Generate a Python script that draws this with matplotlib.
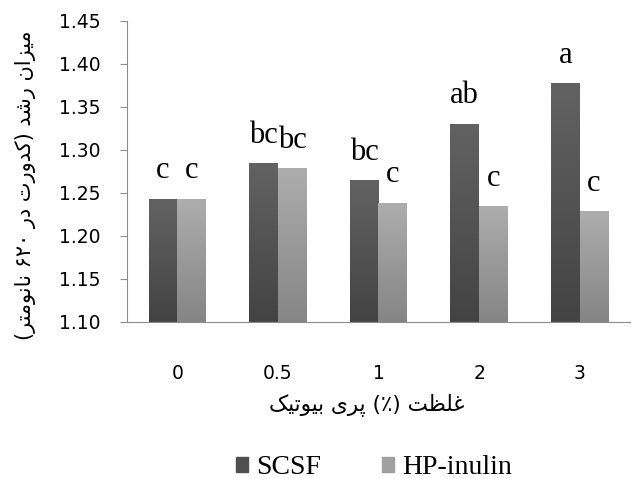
import re
import numpy as np
import matplotlib
matplotlib.use('Agg')
import matplotlib.pyplot as plt
from matplotlib.colors import LinearSegmentedColormap

# data
categories = ['0', '0.5', '1', '2', '3']
scsf = [1.243, 1.284, 1.264, 1.330, 1.377]
hp_inulin = [1.243, 1.278, 1.238, 1.234, 1.228]
scsf_letters = ['c', 'bc', 'bc', 'ab', 'a']
hp_letters = ['c', 'bc', 'c', 'c', 'c']
yticks = [1.10, 1.15, 1.20, 1.25, 1.30, 1.35, 1.40, 1.45]

x_label_fa = 'غلظت (٪) پری بیوتیک'
y_label_fa = 'میزان رشد (کدورت در ۶۲۰ نانومتر)'

# minimal Persian shaping (matplotlib has no bidi / joining)
DUAL = {
    'ب': (0xFE8F, 0xFE90, 0xFE91, 0xFE92), 'ت': (0xFE95, 0xFE96, 0xFE97, 0xFE98),
    'ش': (0xFEB5, 0xFEB6, 0xFEB7, 0xFEB8), 'ظ': (0xFEC5, 0xFEC6, 0xFEC7, 0xFEC8),
    'غ': (0xFECD, 0xFECE, 0xFECF, 0xFED0), 'ل': (0xFEDD, 0xFEDE, 0xFEDF, 0xFEE0),
    'م': (0xFEE1, 0xFEE2, 0xFEE3, 0xFEE4), 'ن': (0xFEE5, 0xFEE6, 0xFEE7, 0xFEE8),
    'پ': (0xFB56, 0xFB57, 0xFB58, 0xFB59), 'ک': (0xFB8E, 0xFB8F, 0xFB90, 0xFB91),
    'ی': (0xFBFC, 0xFBFD, 0xFBFE, 0xFBFF),
}
RIGHT = {
    'ا': (0xFE8D, 0xFE8E), 'د': (0xFEA9, 0xFEAA), 'ر': (0xFEAD, 0xFEAE),
    'ز': (0xFEAF, 0xFEB0), 'و': (0xFEED, 0xFEEE),
}


def shape_fa(text):
    out = []
    for i, ch in enumerate(text):
        prev = text[i - 1] if i > 0 else ''
        nxt = text[i + 1] if i + 1 < len(text) else ''
        jp = prev in DUAL
        if ch in DUAL:
            jn = nxt in DUAL or nxt in RIGHT
            f = DUAL[ch]
            code = f[3] if (jp and jn) else f[1] if jp else f[2] if jn else f[0]
            out.append(chr(code))
        elif ch in RIGHT:
            out.append(chr(RIGHT[ch][1] if jp else RIGHT[ch][0]))
        else:
            out.append(ch)
    s = ''.join(out)[::-1]
    s = re.sub(r'[0-9۰-۹]+', lambda m: m.group(0)[::-1], s)
    return s.translate(str.maketrans('()', ')('))


fig = plt.figure(figsize=(6.34, 4.79), dpi=100)
ax = fig.add_axes([0.2003, 0.3278, 0.7934, 0.6284])

x = np.arange(len(categories))
w = 0.285
cm_dark = LinearSegmentedColormap.from_list('dark', ['#434343', '#626262'])
cm_light = LinearSegmentedColormap.from_list('light', ['#858585', '#adadad'])

b1 = ax.bar(x - w / 2, scsf, w, color='none')
b2 = ax.bar(x + w / 2, hp_inulin, w, color='none')
grad = np.linspace(0, 1, 256).reshape(-1, 1)
for bars, cmap in ((b1, cm_dark), (b2, cm_light)):
    for b in bars:
        ax.imshow(grad, extent=[b.get_x(), b.get_x() + b.get_width(), yticks[0], b.get_height()],
                  origin='lower', aspect='auto', cmap=cmap, zorder=2)

for bars, letters in ((b1, scsf_letters), (b2, hp_letters)):
    for b, t in zip(bars, letters):
        ax.annotate(t, (b.get_x() + b.get_width() / 2, b.get_height()), xytext=(0, 10),
                    textcoords='offset points', ha='center', va='bottom',
                    family='Liberation Serif', fontsize=22)

ax.set_xlim(-0.5, len(categories) - 0.5)
ax.set_ylim(yticks[0], yticks[-1])
ax.set_yticks(yticks)
ax.set_yticklabels([f'{v:.2f}' for v in yticks], family='DejaVu Sans', fontsize=13.5)
ax.set_xticks(x)
ax.set_xticklabels(categories, family='DejaVu Sans', fontsize=13.5)
ax.tick_params(axis='x', length=0, pad=30)
ax.tick_params(axis='y', length=5, color='#8c8c8c', pad=14)
for s in ('top', 'right'):
    ax.spines[s].set_visible(False)
for s in ('left', 'bottom'):
    ax.spines[s].set_color('#8c8c8c')

ax.set_xlabel(shape_fa(x_label_fa), family='DejaVu Sans', fontsize=15.5)
ax.set_ylabel(shape_fa(y_label_fa), family='DejaVu Sans', fontsize=15)
ax.xaxis.set_label_coords(0.477, -0.235)
ax.yaxis.set_label_coords(-0.18, 0.455)

handles = [plt.Rectangle((0, 0), 1, 1, color='#505050'), plt.Rectangle((0, 0), 1, 1, color='#a0a0a0')]
fig.legend(handles, ['SCSF', 'HP-inulin'], loc='lower center', bbox_to_anchor=(0.59, -0.055),
           ncol=2, frameon=False, prop={'family': 'Liberation Serif', 'size': 20},
           handlelength=0.42, handleheight=0.42, handletextpad=0.3, columnspacing=2.2)

fig.savefig('out.png', dpi=100)
